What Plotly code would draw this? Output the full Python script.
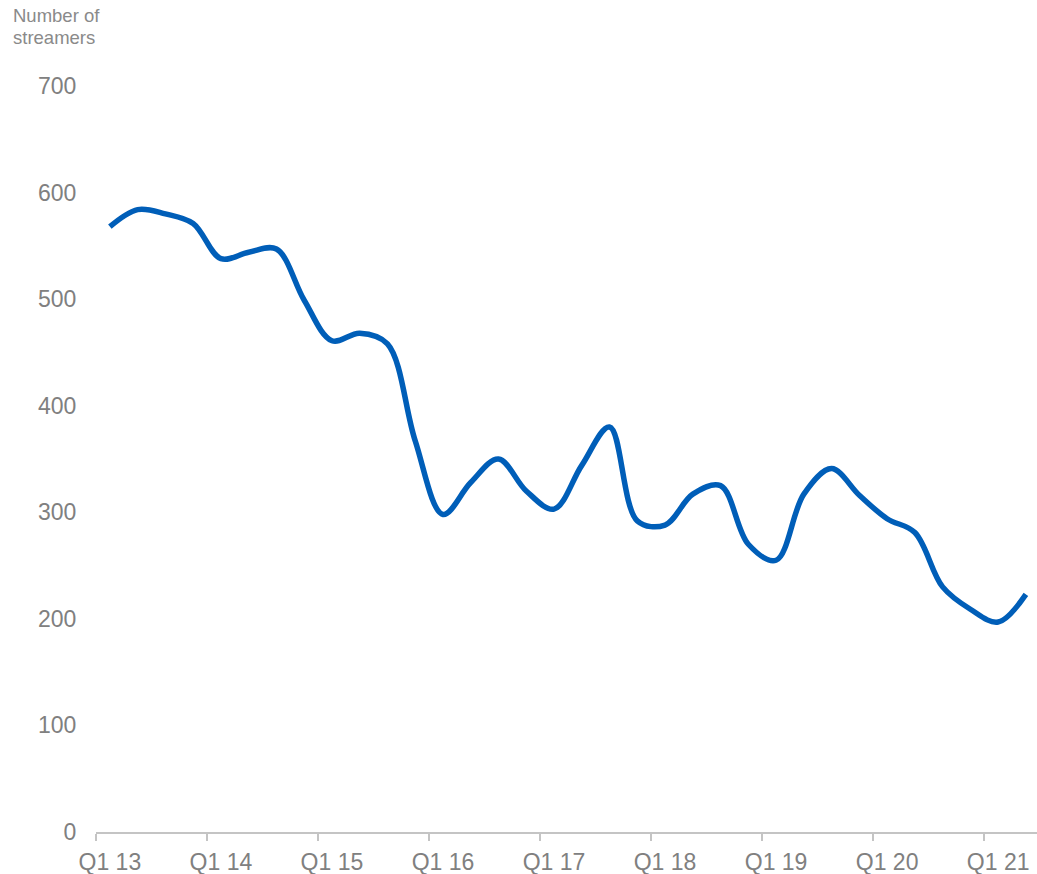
import plotly.graph_objects as go

quarters = [f"Q{q} {y}" for y in range(13, 22) for q in range(1, 5)][:34]
streamers = [568, 584, 580, 571, 538, 544, 547, 499, 461, 468, 458, 367,
             298, 328, 350, 320, 303, 344, 380, 292, 288, 317, 325, 270,
             255, 317, 341, 316, 294, 281, 230, 209, 197, 223]
tick_labels = ["Q1 13", "Q1 14", "Q1 15", "Q1 16", "Q1 17", "Q1 18", "Q1 19", "Q1 20", "Q1 21"]
y_ticks = [0, 100, 200, 300, 400, 500, 600, 700]

idx = list(range(len(quarters)))
label_pos = [quarters.index(t) for t in tick_labels]
boundary_pos = [p - 0.5 for p in label_pos]

FONT = "Liberation Sans, Arial, sans-serif"
GREY = "#808080"

fig = go.Figure()
fig.add_trace(go.Scatter(
    x=idx, y=streamers, mode="lines",
    line=dict(color="#005EB8", width=5.5, shape="spline", smoothing=1.0),
    hovertext=quarters, showlegend=False,
))
fig.add_trace(go.Scatter(x=[None], y=[None], xaxis="x2", showlegend=False))

xr = [-0.5, 33.4]
fig.update_layout(
    width=1037, height=874,
    margin=dict(l=96, r=0, t=86, b=42, autoexpand=False),
    paper_bgcolor="white", plot_bgcolor="white",
    font=dict(family=FONT, color=GREY),
    xaxis=dict(range=xr, tickmode="array", tickvals=label_pos, ticktext=tick_labels,
               ticks="outside", ticklen=9, tickcolor="rgba(0,0,0,0)",
               showline=False, showgrid=False, zeroline=False,
               tickfont=dict(size=23, color=GREY), automargin=False),
    xaxis2=dict(range=xr, overlaying="x", side="bottom", anchor="y",
                tickmode="array", tickvals=boundary_pos, showticklabels=False,
                ticks="outside", ticklen=7, tickwidth=2, tickcolor="#c4c4c4",
                showline=True, linecolor="#c4c4c4", linewidth=2,
                showgrid=False, zeroline=False, automargin=False),
    yaxis=dict(range=[0, 700], tickmode="array", tickvals=y_ticks,
               showgrid=False, zeroline=False, showline=False,
               ticks="outside", ticklen=14, tickcolor="rgba(0,0,0,0)",
               tickfont=dict(size=23, color=GREY), automargin=False),
    annotations=[
        dict(text="Number of", xref="paper", yref="paper",
             x=(11 - 96) / 941, y=(832 - 15) / 746, xanchor="left", yanchor="middle",
             align="left", showarrow=False,
             font=dict(size=18.5, color="#8a8a8a", family=FONT)),
        dict(text="streamers", xref="paper", yref="paper",
             x=(11 - 96) / 941, y=(832 - 37) / 746, xanchor="left", yanchor="middle",
             align="left", showarrow=False,
             font=dict(size=18.5, color="#8a8a8a", family=FONT)),
    ],
)
fig.write_html("out.html", config={"displayModeBar": False},
               post_script="document.body.style.margin='0';document.documentElement.style.overflow='hidden';")
